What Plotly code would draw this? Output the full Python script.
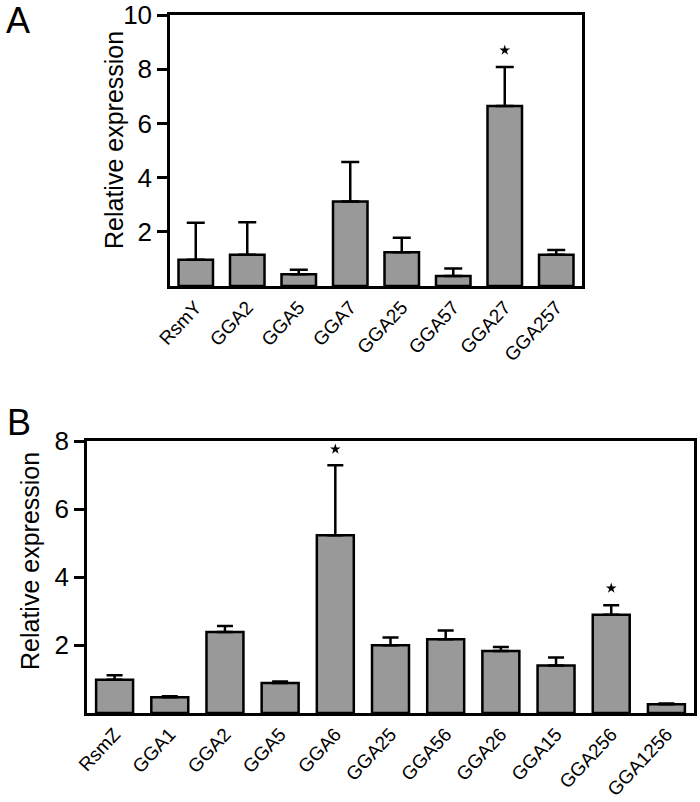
import plotly.graph_objects as go

# ---- Panel A data ----
cats_a = ["RsmY", "GGA2", "GGA5", "GGA7", "GGA25", "GGA57", "GGA27", "GGA257"]
vals_a = [0.97, 1.15, 0.43, 3.12, 1.25, 0.37, 6.64, 1.15]
err_a = [1.36, 1.20, 0.17, 1.46, 0.53, 0.28, 1.44, 0.18]
star_cats_a = ["GGA27"]
star_y_a = [8.7]
ticks_a = [2, 4, 6, 8, 10]

# ---- Panel B data ----
cats_b = ["RsmZ", "GGA1", "GGA2", "GGA5", "GGA6", "GGA25", "GGA56", "GGA26",
          "GGA15", "GGA256", "GGA1256"]
vals_b = [0.98, 0.46, 2.38, 0.88, 5.23, 1.99, 2.17, 1.82, 1.40, 2.89, 0.26]
err_b = [0.13, 0.03, 0.18, 0.05, 2.06, 0.23, 0.26, 0.12, 0.23, 0.28, 0.02]
star_cats_b = ["GGA6", "GGA256"]
star_y_b = [7.76, 3.67]
ticks_b = [2, 4, 6, 8]

FONT = "Arial, Liberation Sans, sans-serif"
BAR_FILL = "#999999"
W, H = 700, 802


def px_x(p):
    return p / W


def px_y(p):
    return 1 - p / H


fig = go.Figure()


def add_panel(cats, vals, errs, scats, sy, xa, ya, cap):
    fig.add_trace(go.Bar(
        x=cats, y=vals, xaxis=xa, yaxis=ya, width=0.67,
        marker=dict(color=BAR_FILL, line=dict(color="black", width=2.5)),
        error_y=dict(type="data", array=errs, arrayminus=[0] * len(errs),
                     symmetric=False, color="black", thickness=2.5, width=cap),
        showlegend=False,
    ))
    fig.add_trace(go.Scatter(
        x=scats, y=sy, xaxis=xa, yaxis=ya, mode="markers",
        marker=dict(symbol="star", size=8, color="black"),
        showlegend=False,
    ))


add_panel(cats_a, vals_a, err_a, star_cats_a, star_y_a, "x", "y", 9)
add_panel(cats_b, vals_b, err_b, star_cats_b, star_y_b, "x2", "y2", 8)

axis_common = dict(showline=True, linecolor="black", linewidth=2.5, mirror=True,
                   showgrid=False, zeroline=False, automargin=False)

fig.update_layout(
    width=W, height=H, margin=dict(l=0, r=0, t=0, b=0),
    paper_bgcolor="white", plot_bgcolor="white",
    font=dict(family=FONT, color="black"),
    xaxis=dict(domain=[px_x(170), px_x(582)], anchor="y", tickangle=-47,
               ticks="", tickfont=dict(size=19), range=[-0.5, 7.5], **axis_common),
    yaxis=dict(domain=[px_y(286), px_y(15)], anchor="x", range=[0, 10],
               tickvals=ticks_a, ticks="outside", ticklen=10, tickwidth=2.5,
               tickcolor="black", tickfont=dict(size=26), **axis_common),
    xaxis2=dict(domain=[px_x(87), px_x(694)], anchor="y2", tickangle=-47,
                ticks="", tickfont=dict(size=19), range=[-0.5, 10.5], **axis_common),
    yaxis2=dict(domain=[px_y(713), px_y(441)], anchor="x2", range=[0, 8],
                tickvals=ticks_b, ticks="outside", ticklen=10, tickwidth=2.5,
                tickcolor="black", tickfont=dict(size=26), **axis_common),
    annotations=[
        dict(text="A", x=px_x(18), y=px_y(20), xref="paper", yref="paper",
             xanchor="center", yanchor="middle", showarrow=False, font=dict(size=36)),
        dict(text="B", x=px_x(19), y=px_y(422), xref="paper", yref="paper",
             xanchor="center", yanchor="middle", showarrow=False, font=dict(size=36)),
        dict(text="Relative expression", textangle=-90, x=px_x(114), y=px_y(140),
             xref="paper", yref="paper", xanchor="center", yanchor="middle",
             showarrow=False, font=dict(size=25)),
        dict(text="Relative expression", textangle=-90, x=px_x(30), y=px_y(561),
             xref="paper", yref="paper", xanchor="center", yanchor="middle",
             showarrow=False, font=dict(size=25)),
    ],
)

fig.write_html("out.html", config={"displayModeBar": False},
               post_script="document.body.style.margin='0';")
